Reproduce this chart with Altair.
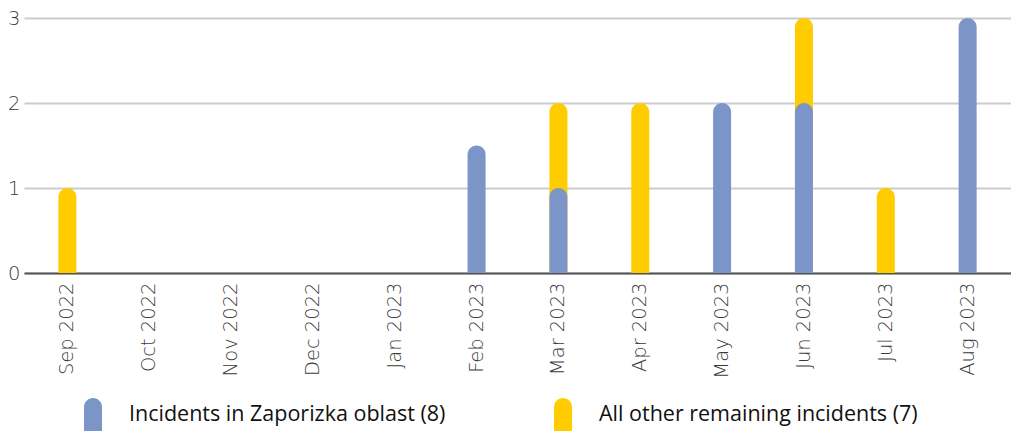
import altair as alt
import pandas as pd

months = ["Sep 2022", "Oct 2022", "Nov 2022", "Dec 2022", "Jan 2023", "Feb 2023",
          "Mar 2023", "Apr 2023", "May 2023", "Jun 2023", "Jul 2023", "Aug 2023"]
zaporizka = [0, 0, 0, 0, 0, 1.5, 1, 0, 2, 2, 0, 3]
total_all = [1, 0, 0, 0, 0, 0, 2, 2, 0, 3, 1, 0]

s_blue = "Incidents in Zaporizka oblast (8)"
s_yellow = "All other remaining incidents (7)"

rows = []
for m, v in zip(months, total_all):
    rows.append({"month": m, "value": v, "series": s_yellow, "ord": 0})
for m, v in zip(months, zaporizka):
    rows.append({"month": m, "value": v, "series": s_blue, "ord": 1})
df = pd.DataFrame(rows)

sym = "M-0.53,1 L-0.53,-0.47 A0.53,0.53 0 0 1 0.53,-0.47 L0.53,1 Z"

chart = alt.Chart(df).transform_filter("datum.value > 0").mark_bar(
    width=18, cornerRadiusTopLeft=9, cornerRadiusTopRight=9
).encode(
    x=alt.X("month:N", sort=months, scale=alt.Scale(domain=months, paddingInner=0, paddingOuter=0.03),
            axis=alt.Axis(title=None, labelAngle=-90, labelFont="DejaVu Sans", labelFontSize=19.5,
                          labelFontWeight=300, labelColor="#3a3a3a", ticks=False, domainColor="#555555",
                          domainWidth=2, labelPadding=9, labelAlign="right", labelBaseline="middle")),
    y=alt.Y("value:Q", stack=None, scale=alt.Scale(domain=[0, 3], nice=False),
            axis=alt.Axis(title=None, values=[0, 1, 2, 3], format="d", labelFont="DejaVu Sans",
                          labelFontSize=19.5, labelFontWeight=300, labelColor="#3a3a3a", ticks=False,
                          domain=False, gridColor="#cccccc", gridWidth=2, labelPadding=4)),
    color=alt.Color("series:N", scale=alt.Scale(domain=[s_blue, s_yellow], range=["#7b95c9", "#ffcc00"]),
                    legend=alt.Legend(title=None, orient="none", legendX=52, legendY=380,
                                      direction="horizontal", columns=2, symbolType=sym,
                                      symbolSize=1156, symbolStrokeWidth=0, symbolOpacity=1,
                                      labelFont="Open Sans", labelFontSize=21.5, labelColor="#111111",
                                      labelLimit=500, labelOffset=19, columnPadding=100, padding=0)),
    order=alt.Order("ord:Q"),
).properties(
    width=987, height=255,
    autosize=alt.AutoSizeParams(type="none"),
    padding={"left": 16, "top": 10, "right": 0, "bottom": 158},
).configure_view(stroke=None)

chart.save("out.html", embed_options={"renderer": "svg", "actions": False})
